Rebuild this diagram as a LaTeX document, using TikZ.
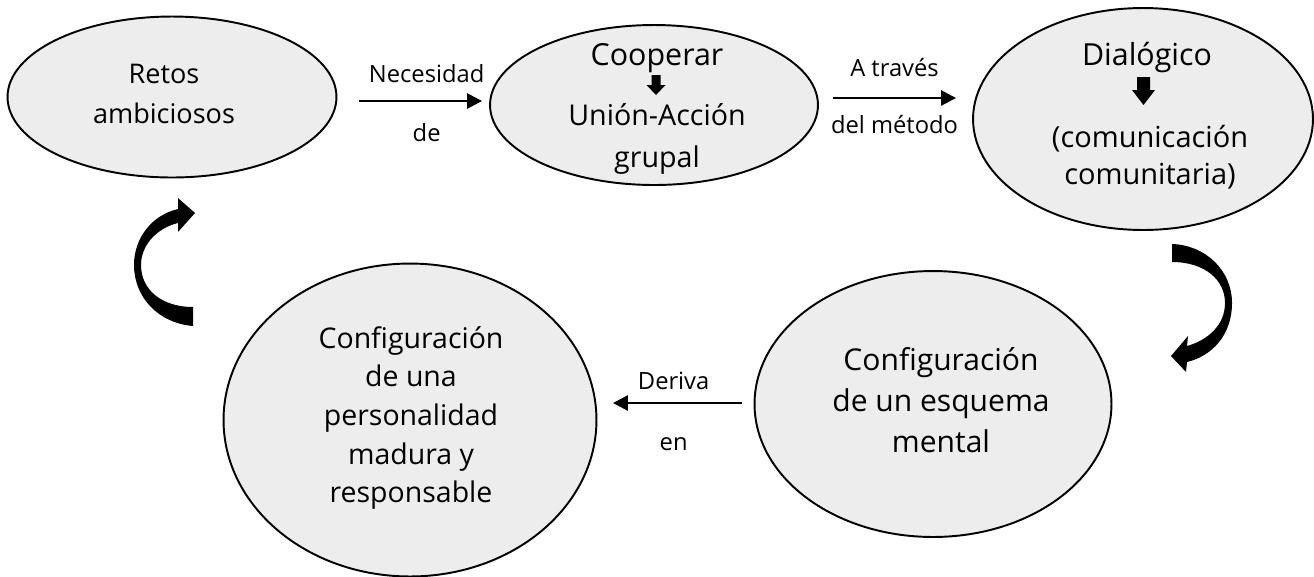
\documentclass[tikz,border=0pt]{standalone}
\usepackage{fontspec}
\setmainfont{Open Sans}
\usepackage{tikz}
\usetikzlibrary{shapes.geometric}
\usetikzlibrary{arrows.meta}
\definecolor{bubblegray}{RGB}{237,237,237}
\newcommand{\setfs}[2]{\fontsize{#1}{#2}\selectfont}

\begin{document}
\begin{tikzpicture}[x=0.02cm,y=-0.02cm,
  bubble/.style={ellipse, draw, line width=1.1pt, fill=bubblegray, inner sep=0pt},
  txt/.style={align=center, inner sep=0pt},
  lbl/.style={inner sep=0pt, anchor=base, font=\setfs{13.5}{16}},
  link/.style={-{Triangle[length=0.3cm,width=0.3cm]}, line width=1.5pt}]
\useasboundingbox (0,0) rectangle (1314,576);
% the five bubbles
\node[bubble, minimum width=6.58cm, minimum height=3.22cm] (retos) at (172,97) {};
\node[bubble, minimum width=6.56cm, minimum height=3.2cm] (coop) at (654,105) {};
\node[bubble, minimum width=6.8cm, minimum height=4.44cm] (dialog) at (1143,119) {};
\node[bubble, minimum width=7.14cm, minimum height=5.32cm] (esquema) at (933,404) {};
\node[bubble, minimum width=7.46cm, minimum height=6.26cm] (personal) at (410,420) {};
% texts
\node[txt, font=\setfs{15.4}{22.76}] (retosT) at (164,95) {\strut Retos\\\strut ambiciosos};
\node[txt, anchor=base, font=\setfs{17.3}{21}] (coopT) at (657,65) {Cooperar};
\node[txt, font=\setfs{16.3}{23.9}] (coopU) at (657,137.6) {\strut Unión-Acción\\\strut grupal};
\node[txt, anchor=base, font=\setfs{17.3}{21}] (dialogT) at (1147,65) {Dialógico};
\node[txt, font=\setfs{16.5}{21.6}] (dialogU) at (1150,158.4) {\strut (comunicación\\\strut comunitaria)};
\node[txt, font=\setfs{17.1}{23.6}] (esquemaT) at (941,403.2) {\strut Configuración\\de un esquema\\\strut mental};
\node[txt, font=\setfs{16.2}{22.05}] (personalT) at (411,417.75) {\strut Configuración\\de una\\personalidad\\madura y\\\strut responsable};
% small block arrows inside
\fill (651.5,75) -- (660.5,75) -- (660.5,85) -- (665.5,85) -- (656,95) -- (646.5,85) -- (651.5,85) -- cycle;
\fill (1137,77) -- (1150,77) -- (1150,90) -- (1155,90) -- (1143.5,105) -- (1132,90) -- (1137,90) -- cycle;
% straight connectors
\draw[link] ([shift={(21.5,4)}]retos.east) -- ([shift={(-7,-4)}]coop.west)
  node[lbl, pos=0.55, yshift=0.38cm] (necA) {Necesidad}
  node[lbl, pos=0.55, yshift=-0.8cm] (necB) {de};
\draw[link] ([shift={(14,-7)}]coop.east) -- ([shift={(-16,-21)}]dialog.west)
  node[lbl, pos=0.5, yshift=0.44cm] (travA) {A través}
  node[lbl, pos=0.5, yshift=-0.7cm] (travB) {del método};
\draw[link] ([shift={(-11.5,-1)}]esquema.west) -- ([shift={(15.5,-17)}]personal.east)
  node[lbl, pos=0.53, yshift=0.28cm] (derA) {Deriva}
  node[lbl, pos=0.53, yshift=-0.94cm] (derB) {en};
% curved block arrows
\fill (193,326) .. controls (158,323) and (134,297) .. (134,265)
  .. controls (134,238) and (152,215) .. (178,209) -- (178,198) -- (195,213) -- (178,232) -- (178,223)
  .. controls (157,228) and (141,245) .. (141,265)
  .. controls (141,290) and (162,307) .. (193,307) -- cycle;
\fill (1172,244) .. controls (1205,245) and (1232,270) .. (1232,303)
  .. controls (1232,335) and (1212,356) .. (1187,362) -- (1186,372) -- (1171,356) -- (1188,336) -- (1187,346)
  .. controls (1208,340) and (1225,325) .. (1225,303)
  .. controls (1225,280) and (1205,262) .. (1172,262) -- cycle;
\end{tikzpicture}
\end{document}
